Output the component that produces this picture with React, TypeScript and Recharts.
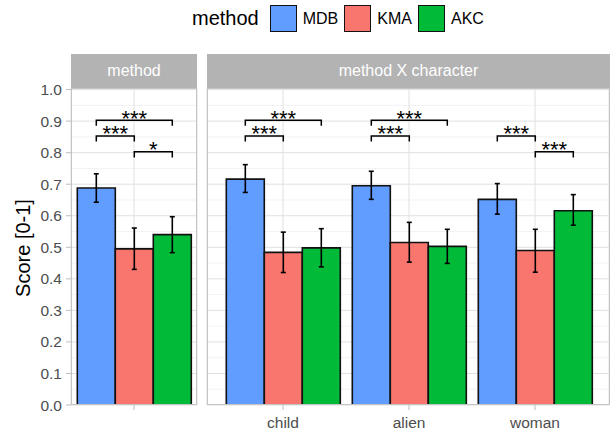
import React from 'react';
import { BarChart, Bar, XAxis, YAxis, CartesianGrid, ErrorBar, Rectangle } from 'recharts';

const methods = ['MDB', 'KMA', 'AKC'];
const methodColors = ['#619CFF', '#F8766D', '#00BA38'];
const characters = ['child', 'alien', 'woman'];
const overallCategory = ['overall'];

const overallMean = [0.688, 0.495, 0.54];
const overallLow = [0.643, 0.43, 0.483];
const overallHigh = [0.733, 0.561, 0.597];

const mdbMean = [0.716, 0.695, 0.652];
const mdbLow = [0.674, 0.652, 0.605];
const mdbHigh = [0.762, 0.741, 0.702];
const kmaMean = [0.484, 0.515, 0.49];
const kmaLow = [0.42, 0.453, 0.421];
const kmaHigh = [0.548, 0.579, 0.557];
const akcMean = [0.498, 0.503, 0.616];
const akcLow = [0.438, 0.449, 0.57];
const akcHigh = [0.559, 0.557, 0.667];

const yTicks = [0, 0.1, 0.2, 0.3, 0.4, 0.5, 0.6, 0.7, 0.8, 0.9, 1.0];
const yMinorTicks = [0.05, 0.15, 0.25, 0.35, 0.45, 0.55, 0.65, 0.75, 0.85, 0.95];
const yDomain = [0, 1.005];

const tipLength = 0.018;
const overallBrackets = [
  { cat: 'overall', from: 'MDB', to: 'AKC', y: 0.903, label: '***' },
  { cat: 'overall', from: 'MDB', to: 'KMA', y: 0.853, label: '***' },
  { cat: 'overall', from: 'KMA', to: 'AKC', y: 0.803, label: '*' },
];
const characterBrackets = [
  { cat: 'child', from: 'MDB', to: 'AKC', y: 0.903, label: '***' },
  { cat: 'child', from: 'MDB', to: 'KMA', y: 0.853, label: '***' },
  { cat: 'alien', from: 'MDB', to: 'AKC', y: 0.903, label: '***' },
  { cat: 'alien', from: 'MDB', to: 'KMA', y: 0.853, label: '***' },
  { cat: 'woman', from: 'MDB', to: 'KMA', y: 0.853, label: '***' },
  { cat: 'woman', from: 'KMA', to: 'AKC', y: 0.803, label: '***' },
];

const overallData = overallCategory.map((cat) => {
  const row: any = { cat };
  methods.forEach((m, i) => {
    row[m] = overallMean[i];
    row[m + '_err'] = [overallMean[i] - overallLow[i], overallHigh[i] - overallMean[i]];
  });
  return row;
});

const charMeans = [mdbMean, kmaMean, akcMean];
const charLows = [mdbLow, kmaLow, akcLow];
const charHighs = [mdbHigh, kmaHigh, akcHigh];
const characterData = characters.map((cat, ci) => {
  const row: any = { cat };
  methods.forEach((m, i) => {
    row[m] = charMeans[i][ci];
    row[m + '_err'] = [charMeans[i][ci] - charLows[i][ci], charHighs[i][ci] - charMeans[i][ci]];
  });
  return row;
});

const FONT = '"Liberation Sans", Arial, sans-serif';

function makeShape(method: string, brackets: any[]) {
  return (props: any) => {
    const { x, y, width, height, payload, fill } = props;
    const mi = methods.indexOf(method);
    const v = payload[method];
    const base = y + height;
    const ppu = height / v;
    const py = (val: number) => base - val * ppu;
    const cx = x + width / 2;
    const own = brackets.filter((b) => b.cat === payload.cat && b.from === method);
    return (
      <g>
        <Rectangle x={x} y={y} width={width} height={height} fill={fill} stroke="#111" strokeWidth={1.6} />
        {own.map((b, k) => {
          const x2 = cx + (methods.indexOf(b.to) - mi) * width;
          const yTop = py(b.y);
          const yTip = py(b.y - tipLength);
          return (
            <g key={k}>
              <path
                d={`M${cx},${yTip}L${cx},${yTop}L${x2},${yTop}L${x2},${yTip}`}
                fill="none"
                stroke="#000"
                strokeWidth={1.5}
              />
              <text
                x={(cx + x2) / 2}
                y={yTop + 5.5}
                textAnchor="middle"
                fontSize={22}
                fill="#000"
                fontFamily={FONT}
              >
                {b.label}
              </text>
            </g>
          );
        })}
      </g>
    );
  };
}

const tickStyle = { fill: '#4d4d4d', fontSize: 15.5, fontFamily: FONT };

function Panel({ data, brackets, showY, width, margin, padding }: any) {
  return (
    <BarChart
      width={width}
      height={433}
      data={data}
      margin={margin}
      barCategoryGap="5%"
      barGap={0}
    >
      <CartesianGrid horizontalValues={yMinorTicks} vertical={false} stroke="#efefef" strokeWidth={0.8} />
      <CartesianGrid stroke="#e0e0e0" strokeWidth={1} />
      <XAxis
        dataKey="cat"
        height={28}
        axisLine={false}
        tickLine={{ stroke: '#bdbdbd' }}
        tickSize={5}
        tickMargin={7}
        tick={tickStyle}
        padding={padding}
        tickFormatter={(v: string) => (v === 'overall' ? '' : v)}
        interval={0}
      />
      <YAxis
        domain={yDomain}
        ticks={yTicks}
        hide={!showY}
        width={71}
        axisLine={false}
        tickLine={{ stroke: '#bdbdbd' }}
        tickSize={5}
        tickMargin={4}
        tick={tickStyle}
        tickFormatter={(v: number) => v.toFixed(1)}
        allowDataOverflow
      />
      {methods.map((m, i) => (
        <Bar
          key={m}
          dataKey={m}
          fill={methodColors[i]}
          isAnimationActive={false}
          shape={makeShape(m, brackets)}
        >
          <ErrorBar dataKey={m + '_err'} width={2.5} stroke="#000" strokeWidth={1.6} direction="y" />
        </Bar>
      ))}
    </BarChart>
  );
}

const stripStyle: React.CSSProperties = {
  position: 'absolute',
  top: 54,
  height: 34,
  background: '#b3b3b3',
  color: '#ffffff',
  fontSize: 16,
  lineHeight: '34px',
  textAlign: 'center',
  fontFamily: FONT,
};
const borderStyle: React.CSSProperties = {
  position: 'absolute',
  top: 88,
  height: 317,
  border: '1px solid #c4c4c4',
  boxSizing: 'border-box',
  pointerEvents: 'none',
};

export default function App() {
  return (
    <div
      style={{
        position: 'absolute',
        left: 0,
        top: 0,
        width: 610,
        height: 433,
        background: '#fff',
        fontFamily: FONT,
        overflow: 'hidden',
      }}
    >
      <div style={{ position: 'absolute', left: 0, top: 0 }}>
        <Panel
          data={overallData}
          brackets={overallBrackets}
          showY
          width={200}
          margin={{ top: 88, right: 3, left: 0, bottom: 0 }}
          padding={{ left: 0, right: 0 }}
        />
      </div>
      <div style={{ position: 'absolute', left: 0, top: 0 }}>
        <Panel
          data={characterData}
          brackets={characterBrackets}
          showY={false}
          width={610}
          margin={{ top: 88, right: 1, left: 207, bottom: 0 }}
          padding={{ left: 13, right: 11 }}
        />
      </div>
      <div style={{ ...borderStyle, left: 71, width: 126 }} />
      <div style={{ ...borderStyle, left: 207, width: 403 }} />
      <div style={{ ...stripStyle, left: 71, width: 126 }}>method</div>
      <div style={{ ...stripStyle, left: 207, width: 403 }}>method X character</div>
      <div
        style={{
          position: 'absolute',
          left: -37,
          top: 236,
          width: 120,
          height: 24,
          lineHeight: '24px',
          fontSize: 20,
          textAlign: 'center',
          color: '#000',
          transform: 'rotate(-90deg)',
          whiteSpace: 'nowrap',
        }}
      >
        Score [0-1]
      </div>
      <div
        style={{
          position: 'absolute',
          left: 192,
          top: 5,
          height: 27,
          display: 'flex',
          alignItems: 'center',
          whiteSpace: 'nowrap',
        }}
      >
        <span style={{ fontSize: 20, marginRight: 11, color: '#000' }}>method</span>
        {methods.map((m, i) => (
          <React.Fragment key={m}>
            <span
              style={{
                display: 'inline-block',
                width: 27,
                height: 27,
                boxSizing: 'border-box',
                border: '1.5px solid #111',
                background: methodColors[i],
                marginRight: 6,
              }}
            />
            <span style={{ fontSize: 16, marginRight: 6, color: '#000' }}>{m}</span>
          </React.Fragment>
        ))}
      </div>
    </div>
  );
}
